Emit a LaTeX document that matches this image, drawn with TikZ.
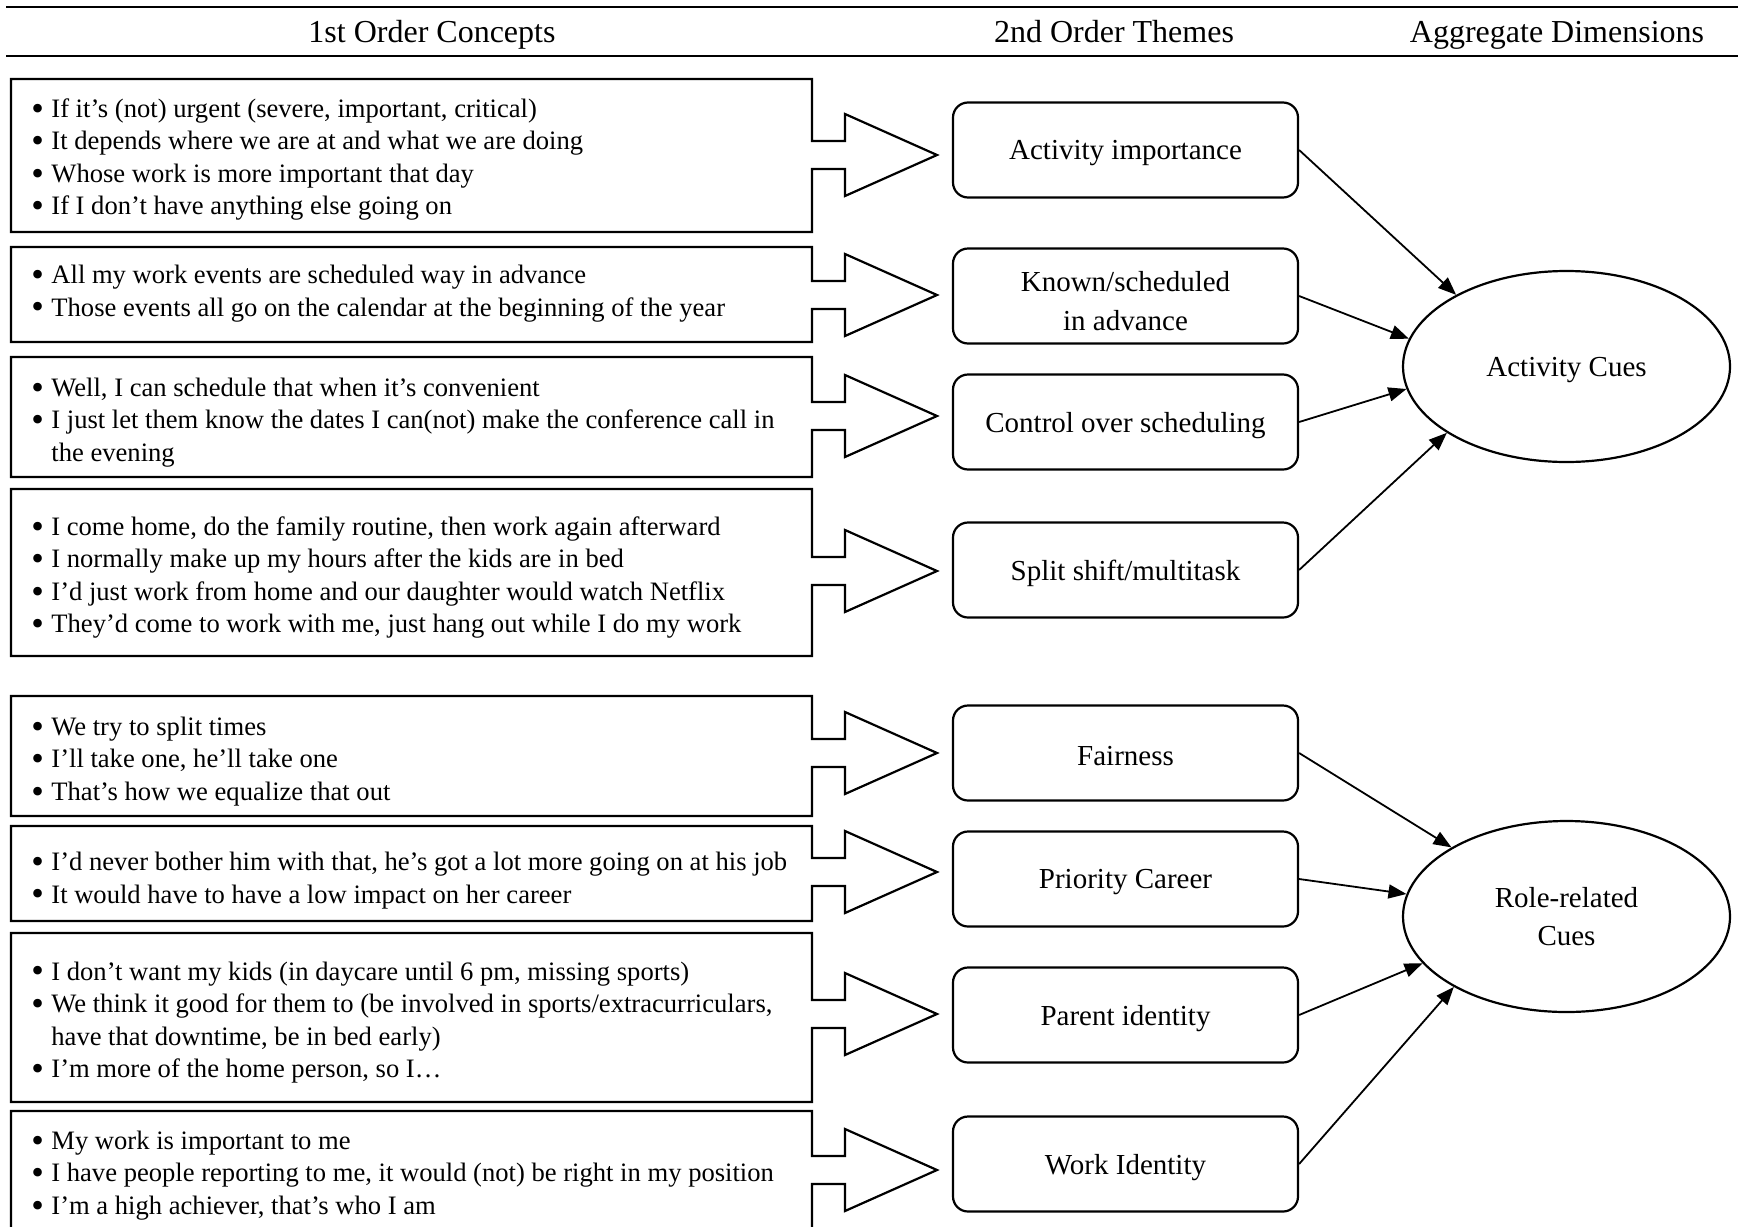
\documentclass[tikz,border=0pt]{standalone}
\usepackage{fontspec}
\usepackage{graphicx}
\setmainfont{Liberation Serif}
\usetikzlibrary{arrows.meta,shapes.geometric}
\newcommand\bl{\makebox[10pt][l]{\raisebox{-1.4pt}{\scalebox{1.35}{•}}}}
\newcommand\hg{\hspace*{10pt}}
\newcommand\lw[2][1.66pt]{\raisebox{-#1}[\height][\depth]{#2}}
\newcommand\cshape[3]{%
  \draw[outline] (11,#1) -- (812,#1) -- (812,#3-14) -- (845,#3-14) -- (845,#3-41)
    -- (937,#3) -- (845,#3+41) -- (845,#3+14) -- (812,#3+14) -- (812,#2) -- (11,#2) -- cycle;}
\begin{document}
\begin{tikzpicture}[x=0.5pt,y=-0.5pt,
  outline/.style={draw, line width=1.1pt, line join=miter},
  concept/.style={anchor=west, inner sep=0pt, align=left, font=\fontsize{13.3}{16.25}\selectfont},
  theme/.style={draw, line width=1.1pt, rounded corners=7.5pt, minimum width=172.5pt, minimum height=47.5pt, align=center, inner sep=0pt, font=\fontsize{14.5}{19.4}\selectfont},
  dim/.style={draw, ellipse, line width=1.1pt, minimum width=163.5pt, minimum height=95.5pt, inner sep=0pt, align=center, font=\fontsize{14.5}{19.4}\selectfont},
  head/.style={font=\fontsize{16}{19}\selectfont, inner sep=0pt, anchor=base},
  link/.style={line width=0.9pt, -{Triangle[length=9pt,width=7pt]}},
  rule/.style={line width=1.3pt}]
\useasboundingbox (0,0) rectangle (1738,1226);
\clip (0,0) rectangle (1738,1226);
% header
\coordinate (r1a) at (6,7); \coordinate (r1b) at (1738,7);
\coordinate (r2a) at (6,56); \coordinate (r2b) at (1738,56);
\draw[rule] (r1a) -- (r1b);
\draw[rule] (r2a) -- (r2b);
\node[head] (h1) at (432,42) {1st Order Concepts};
\node[head] (h2) at (1114,42) {2nd Order Themes};
\node[head] (h3) at (1557,42) {Aggregate Dimensions};
% concept outlines with block arrows
\cshape{79}{232}{155}
\cshape{247}{342}{295}
\cshape{357}{477}{416}
\cshape{489}{656}{571}
\cshape{696}{816}{753}
\cshape{826}{921}{872}
\cshape{933}{1102}{1014}
\cshape{1111}{1260}{1170}
% concept texts
\node[concept] (c1) at (31,159.5) {\bl If it’s (not) urgent (severe, important, critical)\\
  \bl It depends where we are at and what we are doing\\
  \bl Whose work is more important that day\\
  \bl If I don’t have anything else going on};
\node[concept] (c2) at (31,293.5) {\bl All my work events are scheduled way in advance\\
  \bl Those events all go on the calendar at the beginning of the year};
\node[concept] (c3) at (31,422.5) {\bl Well, I can schedule that when it’s convenient\\
  \bl I just let them know the dates I can(not) make the conference call in\\
  \hg the evening};
\node[concept] (c4) at (31,577.5) {\bl I come home, do the family routine, then work again afterward\\
  \bl I normally make up my hours after the kids are in bed\\
  \bl I’d just work from home and our daughter would watch Netflix\\
  \bl They’d come to work with me, just hang out while I do my work};
\node[concept] (c5) at (31,761.5) {\bl We try to split times\\
  \bl I’ll take one, he’ll take one\\
  \bl That’s how we equalize that out};
\node[concept] (c6) at (31,880.5) {\bl I’d never bother him with that, he’s got a lot more going on at his job\\
  \bl It would have to have a low impact on her career};
\node[concept] (c7) at (31,1022.5) {\bl I don’t want my kids (in daycare until 6 pm, missing sports)\\
  \bl We think it good for them to (be involved in sports/extracurriculars,\\
  \hg have that downtime, be in bed early)\\
  \bl I’m more of the home person, so I…};
\node[concept] (c8) at (31,1175.5) {\bl My work is important to me\\
  \bl I have people reporting to me, it would (not) be right in my position\\
  \bl I’m a high achiever, that’s who I am};
% themes
\node[theme] (t1) at (1125.5,150) {\lw{Activity importance}};
\node[theme] (t2) at (1125.5,296) {\lw[2.5pt]{Known/scheduled}\\\lw[2.5pt]{in advance}};
\node[theme] (t3) at (1125.5,422) {\lw{Control over scheduling}};
\node[theme] (t4) at (1125.5,570) {\lw{Split shift/multitask}};
\node[theme] (t5) at (1125.5,753) {\lw{Fairness}};
\node[theme] (t6) at (1125.5,879) {\lw{Priority Career}};
\node[theme] (t7) at (1125.5,1015) {\lw{Parent identity}};
\node[theme] (t8) at (1125.5,1164) {\lw{Work Identity}};
% aggregate dimensions
\node[dim] (act) at (1566.5,366.5) {\lw{Activity Cues}};
\node[dim] (role) at (1566.5,916.5) {Role-related\\Cues};
% links
\draw[link] (t1.east) -- (act.147.8);
\draw[link] (t2.east) -- (act.170);
\draw[link] (t3.east) -- (act.188);
\draw[link] (t4.east) -- (act.209.4);
\draw[link] (t5.east) -- (role.149.6);
\draw[link] (t6.east) -- (role.172);
\draw[link] (t7.east) -- (role.198.5);
\draw[link] (t8.east) -- (role.212);
\end{tikzpicture}
\end{document}
